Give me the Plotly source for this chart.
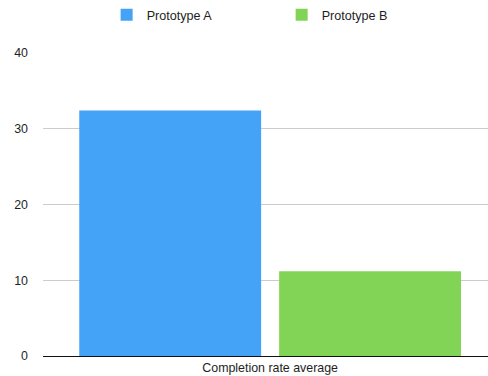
import plotly.graph_objects as go

categories = ["Completion rate average"]
series_names = ["Prototype A", "Prototype B"]
proto_a = [32.4]
proto_b = [11.2]
y_ticks = [0, 10, 20, 30, 40]

colors = ["#45A3F7", "#82D456"]

fig = go.Figure()
for name, vals, col in zip(series_names, [proto_a, proto_b], colors):
    fig.add_trace(go.Bar(x=categories, y=vals, name=name, marker_color=col,
                         marker_line_width=0))

fig.update_layout(
    width=488, height=376,
    margin=dict(l=43, r=0, t=53, b=20, pad=0),
    paper_bgcolor="white", plot_bgcolor="white",
    font=dict(family="Liberation Sans, Arial, sans-serif", size=12.4, color="#1e1e1e"),
    barmode="group", bargap=0.1017, bargroupgap=0.09,
    showlegend=True,
    legend=dict(orientation="h", x=0.143, xanchor="left", xref="paper",
                y=1.0, yanchor="top", yref="container",
                entrywidth=130, font=dict(size=12.6), itemclick=False),
)
fig.update_xaxes(range=[-0.5104, 0.4896], showgrid=False, showline=True,
                 linecolor="#111", linewidth=1, ticks="", tickfont=dict(size=12.4))
fig.update_yaxes(range=[0, 40], tickvals=y_ticks, showgrid=True, gridcolor="#cccccc",
                 gridwidth=1, zeroline=False, showline=False, ticks="",
                 ticklabelstandoff=14, tickfont=dict(size=12.4))

fig.write_html("out.html")
